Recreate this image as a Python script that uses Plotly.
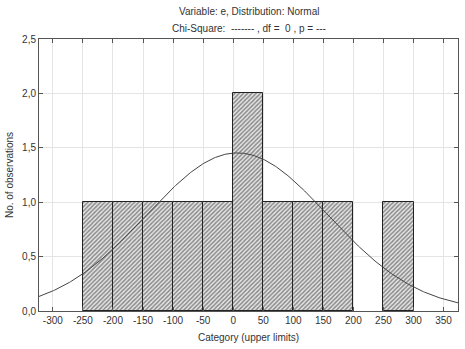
import numpy as np
import plotly.graph_objects as go

# Data
bin_upper = [-200, -150, -100, -50, 0, 50, 100, 150, 200, 250, 300]
counts = [1, 1, 1, 1, 1, 2, 1, 1, 1, 0, 1]
bin_width = 50
n_obs = 11
fit_mean = 6.8
fit_sd = 151.0
x_ticks = list(range(-300, 351, 50))
x_tick_labels = [str(v) for v in x_ticks]
y_ticks = [0, 0.5, 1.0, 1.5, 2.0, 2.5]
y_tick_labels = ["0,0", "0,5", "1,0", "1,5", "2,0", "2,5"]

x_range = [-323, 374]

centers = [u - bin_width / 2 for u in bin_upper]
edge_colors = ["#222" if c > 0 else "rgba(0,0,0,0)" for c in counts]

xs = np.linspace(x_range[0], x_range[1], 400)
ys = n_obs * bin_width / (fit_sd * np.sqrt(2 * np.pi)) * np.exp(-0.5 * ((xs - fit_mean) / fit_sd) ** 2)

fig = go.Figure()
fig.add_trace(go.Bar(
    x=centers, y=counts, width=bin_width,
    marker=dict(
        color="white",
        line=dict(color=edge_colors, width=1),
        pattern=dict(shape="/", fgcolor="#2a2a2a", bgcolor="#e8e8e8", size=3, solidity=0.5),
    ),
    showlegend=False,
))
fig.add_trace(go.Scatter(x=xs, y=ys, mode="lines", line=dict(color="#444", width=1), showlegend=False))

font = "Liberation Sans, Arial, sans-serif"
fig.update_layout(
    width=465, height=349,
    margin=dict(l=39, r=7, t=39, b=38),
    paper_bgcolor="white", plot_bgcolor="white",
    font=dict(family=font, size=10, color="#333"),
    bargap=0,
    annotations=[
        dict(text="Variable: e, Distribution: Normal", x=0.5, y=1, xref="paper", yref="paper",
             xanchor="center", yanchor="bottom", yshift=20, showarrow=False, font=dict(size=10)),
        dict(text="Chi-Square:  ------- , df =  0 , p = ---", x=0.5, y=1, xref="paper", yref="paper",
             xanchor="center", yanchor="bottom", yshift=3, showarrow=False, font=dict(size=10)),
    ],
)
fig.update_xaxes(
    range=x_range, tickvals=x_ticks, ticktext=x_tick_labels, ticks="inside", ticklen=4, tickcolor="#555",
    showline=True, linecolor="#555", linewidth=1, mirror="ticks",
    showgrid=True, gridcolor="#e4e4e4", gridwidth=1, zeroline=False,
    tickfont=dict(size=10),
    title=dict(text="Category (upper limits)", font=dict(size=10), standoff=8),
)
fig.update_yaxes(
    range=[0, 2.5], tickvals=y_ticks, ticktext=y_tick_labels, ticks="inside", ticklen=4, tickcolor="#555",
    showline=True, linecolor="#555", linewidth=1, mirror="ticks",
    showgrid=True, gridcolor="#e4e4e4", gridwidth=1, zeroline=False,
    tickfont=dict(size=10),
    title=dict(text="No. of observations", font=dict(size=10), standoff=6),
)

fig.write_html("out.html", config={"displayModeBar": False},
               post_script="document.body.style.margin='0';document.body.style.overflow='hidden';")
